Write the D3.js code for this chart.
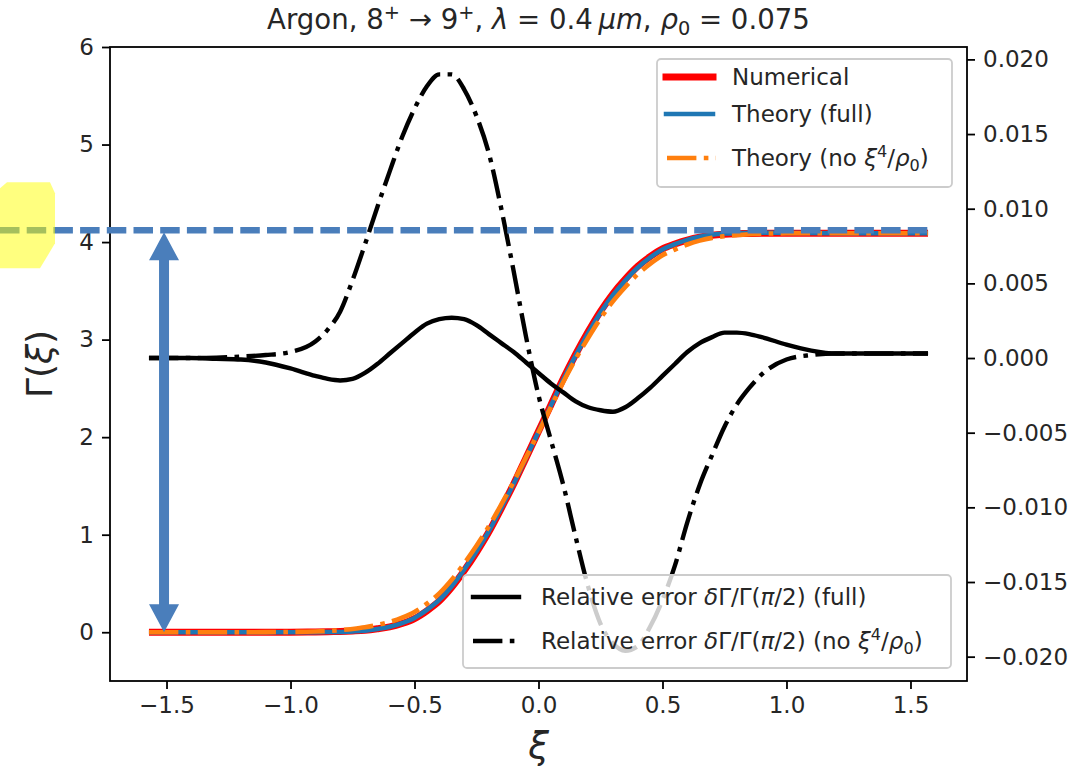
<!DOCTYPE html>
<html>
<head>
<meta charset="utf-8">
<script src="https://cdn.jsdelivr.net/npm/d3@7"></script>
<style>
  html, body { margin: 0; padding: 0; background: #fff; }
  svg { display: block; font-family: "DejaVu Sans", sans-serif; }
  text { white-space: pre; }
</style>
</head>
<body>
<div id="chart"></div>
<script>
// xi grid (shared by every series)
const xi = [
  -1.5708, -1.5, -1.4, -1.3, -1.2, -1.1, -1.0, -0.9,
  -0.85, -0.8, -0.75, -0.7, -0.65, -0.6, -0.55, -0.5, -0.45,
  -0.4, -0.35, -0.3, -0.25, -0.2, -0.15, -0.1, -0.05,
  0, 0.05, 0.1, 0.15, 0.2, 0.25, 0.3, 0.35,
  0.4, 0.45, 0.5, 0.55, 0.6, 0.65, 0.7, 0.75,
  0.8, 0.85, 0.9, 1.0, 1.1, 1.2, 1.3, 1.4, 1.5, 1.5708
]

// left axis: Gamma(xi)
const gammaNumerical = [
  0, 0, 0, 0, 0, 0, 0.001, 0.003,
  0.005, 0.008, 0.013, 0.02, 0.035, 0.055, 0.09, 0.14, 0.22,
  0.32, 0.46, 0.63, 0.82, 1.03, 1.27, 1.52, 1.79,
  2.06, 2.33, 2.60, 2.85, 3.08, 3.29, 3.47, 3.62,
  3.75, 3.85, 3.93, 3.98, 4.02, 4.05, 4.07, 4.08,
  4.085, 4.088, 4.09, 4.09, 4.09, 4.09, 4.09, 4.09, 4.09, 4.09
]
const gammaTheoryFull = [
  0, 0, 0, 0, 0, 0, 0, 0.001,
  0.002, 0.003, 0.008, 0.016, 0.033, 0.056, 0.094, 0.147, 0.229,
  0.331, 0.471, 0.641, 0.829, 1.037, 1.274, 1.522, 1.789,
  2.056, 2.323, 2.591, 2.838, 3.066, 3.276, 3.455, 3.607,
  3.739, 3.842, 3.925, 3.978, 4.022, 4.054, 4.076, 4.087,
  4.092, 4.095, 4.096, 4.094, 4.092, 4.091, 4.091, 4.091, 4.091, 4.091
]
const gammaTheoryNoXi4 = [
  0, 0, 0, 0, 0, 0.001, 0.003, 0.008,
  0.013, 0.021, 0.034, 0.051, 0.076, 0.106, 0.150, 0.208, 0.294,
  0.398, 0.538, 0.704, 0.886, 1.086, 1.311, 1.544, 1.795,
  2.050, 2.308, 2.565, 2.801, 3.017, 3.217, 3.392, 3.540,
  3.671, 3.776, 3.864, 3.923, 3.975, 4.015, 4.043, 4.061,
  4.072, 4.080, 4.086, 4.090, 4.091, 4.091, 4.091, 4.091, 4.091, 4.091
]

// right axis: relative errors
const relErrFull = [
  0, 0, 0, -0.00005, -0.0001, -0.0003, -0.0007, -0.0012,
  -0.0014, -0.0015, -0.0014, -0.0010, -0.0004, 0.0003, 0.0010, 0.0017, 0.0023,
  0.0026, 0.0027, 0.0026, 0.0022, 0.0016, 0.0010, 0.0004, -0.0003,
  -0.0010, -0.0017, -0.0023, -0.0029, -0.0033, -0.0035, -0.0036, -0.0033,
  -0.0027, -0.0020, -0.0012, -0.0004, 0.0004, 0.0010, 0.0014, 0.0017,
  0.0017, 0.0016, 0.0014, 0.0009, 0.0005, 0.0003, 0.0003, 0.0003, 0.0003, 0.0003
]
const relErrNoXi4 = [
  0, 0, 0, 0.00003, 0.0001, 0.0002, 0.0004, 0.0011,
  0.0019, 0.0031, 0.0052, 0.0076, 0.0101, 0.0125, 0.0148, 0.0167, 0.0182,
  0.0190, 0.0190, 0.0180, 0.0162, 0.0137, 0.0100, 0.0058, 0.0014,
  -0.0025, -0.0055, -0.0085, -0.0120, -0.0153, -0.0178, -0.0191, -0.0196,
  -0.0193, -0.0180, -0.0162, -0.0139, -0.0110, -0.0085, -0.0065, -0.0046,
  -0.0031, -0.0020, -0.0011, -0.0001, 0.0002, 0.0003, 0.0003, 0.0003, 0.0003, 0.0003
]

const xTicks = [-1.5, -1.0, -0.5, 0.0, 0.5, 1.0, 1.5]
const yLeftTicks = [0, 1, 2, 3, 4, 5, 6]
const yRightTicks = [-0.020, -0.015, -0.010, -0.005, 0.000, 0.005, 0.010, 0.015, 0.020]

// hand-drawn annotation: level of the plateau and the double arrow
const plateauLevel = 4.12
const arrowXi = -1.51

const width = 1069
const height = 772
const m = { left: 110, right: 967, top: 47, bottom: 681 }

const x = d3.scaleLinear().domain([-1.7279, 1.7279]).range([m.left, m.right])
const yL = d3.scaleLinear().domain([-0.5, 6]).range([m.bottom, m.top])
const yR = d3.scaleLinear().domain([-0.02163, 0.02083]).range([m.bottom, m.top])

const svg = d3.select('#chart').append('svg')
  .attr('width', width)
  .attr('height', height)

svg.append('rect').attr('width', width).attr('height', height).attr('fill', '#fff')

// mathtext-ish rich text
function richText(sel, parts, fs) {
  let shift = 0
  parts.forEach(p => {
    const target = p.sup ? -0.38 * fs : p.sub ? 0.22 * fs : 0
    const ts = sel.append('tspan').text(p.t)
    if (target !== shift) { ts.attr('dy', target - shift); shift = target }
    if (p.sup || p.sub) ts.attr('font-size', fs * 0.7)
    if (p.it) ts.attr('font-style', 'italic')
  })
}

const lineL = arr => d3.line()
  .x((d, i) => x(xi[i]))
  .y(d => yL(d))
  .curve(d3.curveMonotoneX)(arr)
const lineR = arr => d3.line()
  .x((d, i) => x(xi[i]))
  .y(d => yR(d))
  .curve(d3.curveMonotoneX)(arr)

const plot = svg.append('g')

plot.append('path').attr('d', lineL(gammaNumerical))
  .attr('fill', 'none').attr('stroke', '#ff0000').attr('stroke-width', 7)
plot.append('path').attr('d', lineL(gammaTheoryFull))
  .attr('fill', 'none').attr('stroke', '#1f77b4').attr('stroke-width', 4.5)
plot.append('path').attr('d', lineL(gammaTheoryNoXi4))
  .attr('fill', 'none').attr('stroke', '#ff7f0e').attr('stroke-width', 4.6)
  .attr('stroke-dasharray', '29.4,7.4,4.6,7.4')

plot.append('path').attr('d', lineR(relErrFull))
  .attr('fill', 'none').attr('stroke', '#000').attr('stroke-width', 4.4)
plot.append('path').attr('d', lineR(relErrNoXi4))
  .attr('fill', 'none').attr('stroke', '#000').attr('stroke-width', 4.4)
  .attr('stroke-dasharray', '29.4,7.4,4.6,7.4')

// legends
const fs = 23
function legend(box, entries) {
  const g = svg.append('g')
  g.append('rect')
    .attr('x', box[0]).attr('y', box[1])
    .attr('width', box[2]).attr('height', box[3])
    .attr('rx', 4)
    .attr('fill', '#fff').attr('fill-opacity', 0.8)
    .attr('stroke', '#cccccc').attr('stroke-width', 1.8)
  entries.forEach(e => {
    const l = g.append('line')
      .attr('x1', e.x1).attr('x2', e.x2).attr('y1', e.y).attr('y2', e.y)
      .attr('stroke', e.color).attr('stroke-width', e.w)
      .attr('stroke-linecap', e.dash ? 'butt' : 'square')
    if (e.dash) l.attr('stroke-dasharray', e.dash)
    const t = g.append('text')
      .attr('x', e.tx).attr('y', e.y + 8)
      .attr('font-size', fs).attr('fill', '#262626')
    richText(t, e.parts, fs)
  })
}

legend([657, 59, 295, 128], [
  { y: 77, x1: 666, x2: 713, color: '#ff0000', w: 7, tx: 732, parts: [{ t: 'Numerical' }] },
  { y: 114, x1: 666, x2: 713, color: '#1f77b4', w: 4.5, tx: 732, parts: [{ t: 'Theory (full)' }] },
  { y: 158, x1: 667, x2: 716, color: '#ff7f0e', w: 4.6, dash: '29.4,7.4,4.6,7.4', tx: 732,
    parts: [{ t: 'Theory (no ' }, { t: 'ξ', it: 1 }, { t: '4', sup: 1 }, { t: '/' }, { t: 'ρ', it: 1 }, { t: '0', sub: 1 }, { t: ')' }] }
])

legend([463, 575, 488, 93], [
  { y: 597, x1: 473, x2: 519, color: '#000', w: 4.4, tx: 541,
    parts: [{ t: 'Relative error ' }, { t: 'δ', it: 1 }, { t: 'Γ/Γ(' }, { t: 'π', it: 1 }, { t: '/2) (full)' }] },
  { y: 641, x1: 473, x2: 520, color: '#000', w: 4.4, dash: '29.4,7.4,4.6,7.4', tx: 541,
    parts: [{ t: 'Relative error ' }, { t: 'δ', it: 1 }, { t: 'Γ/Γ(' }, { t: 'π', it: 1 }, { t: '/2) (no ' },
      { t: 'ξ', it: 1 }, { t: '4', sup: 1 }, { t: '/' }, { t: 'ρ', it: 1 }, { t: '0', sub: 1 }, { t: ')' }] }
])

// frame
svg.append('rect')
  .attr('x', m.left).attr('y', m.top)
  .attr('width', m.right - m.left).attr('height', m.bottom - m.top)
  .attr('fill', 'none').attr('stroke', '#000').attr('stroke-width', 1.8)

// axes
function styleAxis(g) {
  g.select('.domain').remove()
  g.selectAll('.tick line').attr('stroke-width', 1.8).attr('stroke', '#000')
  g.selectAll('.tick text').attr('font-size', fs).attr('fill', '#262626')
    .attr('font-family', '"DejaVu Sans", sans-serif')
}

svg.append('g').attr('transform', `translate(0,${m.bottom})`)
  .call(d3.axisBottom(x).tickValues(xTicks).tickFormat(d3.format('.1f')).tickSize(8).tickPadding(8))
  .call(styleAxis)
svg.append('g').attr('transform', `translate(${m.left},0)`)
  .call(d3.axisLeft(yL).tickValues(yLeftTicks).tickFormat(d3.format('d')).tickSize(8).tickPadding(8))
  .call(styleAxis)
svg.append('g').attr('transform', `translate(${m.right},0)`)
  .call(d3.axisRight(yR).tickValues(yRightTicks).tickFormat(d3.format('.3f')).tickSize(8).tickPadding(8))
  .call(styleAxis)

// title and labels
const title = svg.append('text')
  .attr('x', (m.left + m.right) / 2).attr('y', 29)
  .attr('text-anchor', 'middle').attr('font-size', 27.6).attr('fill', '#262626')
richText(title, [
  { t: 'Argon, 8' }, { t: '+', sup: 1 }, { t: ' → 9' }, { t: '+', sup: 1 }, { t: ', ' },
  { t: 'λ', it: 1 }, { t: ' = 0.4\u2009' }, { t: 'μm', it: 1 }, { t: ', ' },
  { t: 'ρ', it: 1 }, { t: '0', sub: 1 }, { t: ' = 0.075' }
], 27.6)

const ylab = svg.append('text')
  .attr('transform', `translate(52,${(m.top + m.bottom) / 2}) rotate(-90)`)
  .attr('text-anchor', 'middle').attr('font-size', 36).attr('fill', '#262626')
richText(ylab, [{ t: 'Γ(' }, { t: 'ξ', it: 1 }, { t: ')' }], 36)

svg.append('text')
  .attr('x', (m.left + m.right) / 2).attr('y', 758)
  .attr('text-anchor', 'middle').attr('font-size', 37).attr('font-style', 'italic')
  .attr('fill', '#262626')
  .text('ξ')

// annotations: dashed level line, double arrow, yellow highlight
const annBlue = '#4a7ebb'
const levelY = yL(plateauLevel)
svg.append('line')
  .attr('x1', 0).attr('x2', x(1.58)).attr('y1', levelY).attr('y2', levelY)
  .attr('stroke', annBlue).attr('stroke-width', 6.5)
  .attr('stroke-dasharray', '19.5,7.2')

const ax = x(arrowXi)
const yTop = levelY + 2, yBot = yL(0)
const head = 28, hw = 15, sw = 5
svg.append('path')
  .attr('d', `M${ax},${yTop} L${ax + hw},${yTop + head} L${ax + sw},${yTop + head} L${ax + sw},${yBot - head}
    L${ax + hw},${yBot - head} L${ax},${yBot} L${ax - hw},${yBot - head} L${ax - sw},${yBot - head}
    L${ax - sw},${yTop + head} L${ax - hw},${yTop + head} Z`)
  .attr('fill', annBlue)

svg.append('path')
  .attr('d', `M0,${levelY - 42} L7,${levelY - 48} L50,${levelY - 48} L55,${levelY - 37}
    L55,${levelY + 13} L40,${levelY + 38} L0,${levelY + 38} Z`)
  .attr('fill', '#ffff00').attr('fill-opacity', 0.5)
</script>
</body>
</html>
